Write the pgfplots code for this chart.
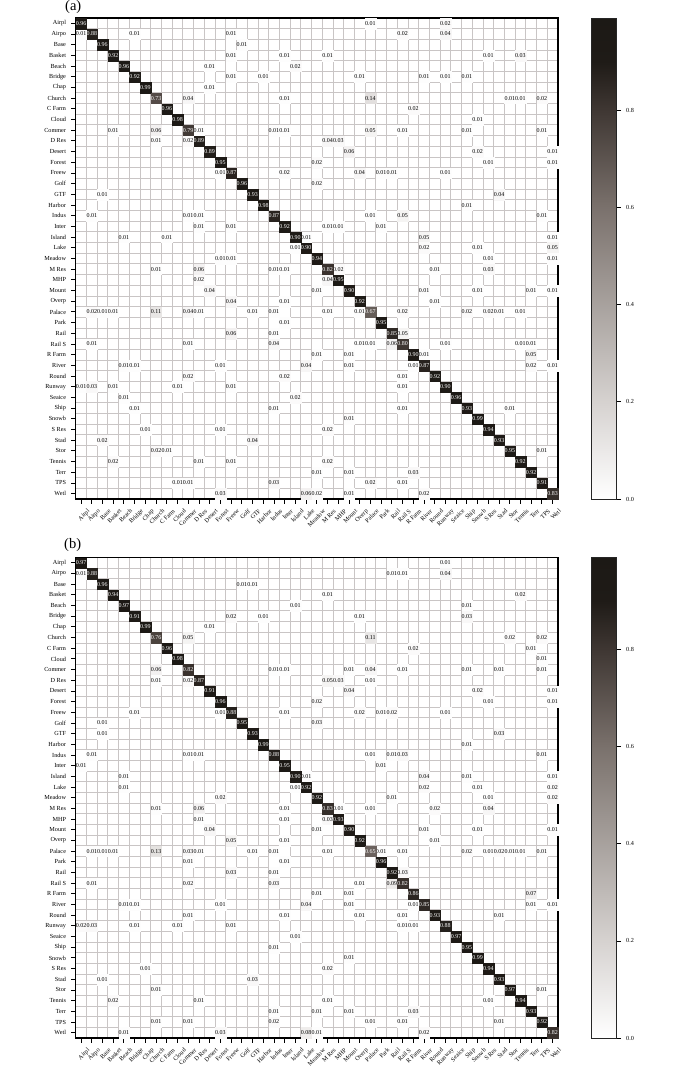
\documentclass[border=0pt]{standalone}
\usepackage{fontspec}
\setmainfont{Liberation Serif}
\usepackage{pgfplots}
\usepackage{pgfplotstable}
\pgfplotsset{compat=1.18}

% x y value, x = predicted column, y = row, both from 0
\pgfplotstableread{
x y v
27 0 0.01
34 0 0.02
0 1 0.01
5 1 0.01
14 1 0.01
30 1 0.02
34 1 0.04
15 2 0.01
14 3 0.01
19 3 0.01
23 3 0.01
38 3 0.01
41 3 0.03
12 4 0.01
20 4 0.02
14 5 0.01
17 5 0.01
26 5 0.01
32 5 0.01
34 5 0.01
36 5 0.01
12 6 0.01
10 7 0.04
19 7 0.01
27 7 0.14
40 7 0.01
41 7 0.01
43 7 0.02
31 8 0.02
37 9 0.01
3 10 0.01
7 10 0.06
11 10 0.01
18 10 0.01
19 10 0.01
27 10 0.05
30 10 0.01
36 10 0.01
43 10 0.01
7 11 0.01
10 11 0.02
23 11 0.04
24 11 0.03
25 12 0.06
37 12 0.02
44 12 0.01
22 13 0.02
38 13 0.01
44 13 0.01
13 14 0.01
19 14 0.02
26 14 0.04
28 14 0.01
29 14 0.01
34 14 0.01
22 15 0.02
2 16 0.01
39 16 0.04
36 17 0.01
1 18 0.01
10 18 0.01
11 18 0.01
27 18 0.01
30 18 0.05
43 18 0.01
11 19 0.01
14 19 0.01
23 19 0.01
24 19 0.01
28 19 0.01
4 20 0.01
8 20 0.01
21 20 0.01
32 20 0.05
44 20 0.01
20 21 0.01
32 21 0.02
37 21 0.01
44 21 0.05
13 22 0.01
14 22 0.01
38 22 0.01
44 22 0.01
7 23 0.01
11 23 0.06
18 23 0.01
19 23 0.01
24 23 0.02
33 23 0.01
38 23 0.03
11 24 0.02
23 24 0.04
12 25 0.04
22 25 0.01
32 25 0.01
37 25 0.01
42 25 0.01
44 25 0.01
14 26 0.04
19 26 0.01
33 26 0.01
1 27 0.02
2 27 0.01
3 27 0.01
7 27 0.11
10 27 0.04
11 27 0.01
16 27 0.01
18 27 0.01
23 27 0.01
26 27 0.01
30 27 0.02
36 27 0.02
38 27 0.02
39 27 0.01
41 27 0.01
19 28 0.01
14 29 0.06
18 29 0.01
30 29 0.05
1 30 0.01
10 30 0.01
18 30 0.04
26 30 0.01
27 30 0.01
29 30 0.06
34 30 0.01
41 30 0.01
42 30 0.01
22 31 0.01
25 31 0.01
32 31 0.01
42 31 0.05
4 32 0.01
5 32 0.01
13 32 0.01
21 32 0.04
25 32 0.01
31 32 0.01
42 32 0.02
44 32 0.01
10 33 0.02
19 33 0.02
30 33 0.01
0 34 0.01
1 34 0.03
3 34 0.01
9 34 0.01
14 34 0.01
30 34 0.01
4 35 0.01
20 35 0.02
5 36 0.01
18 36 0.01
30 36 0.01
40 36 0.01
25 37 0.01
6 38 0.01
13 38 0.01
23 38 0.02
2 39 0.02
16 39 0.04
7 40 0.02
8 40 0.01
43 40 0.01
3 41 0.02
11 41 0.01
14 41 0.01
23 41 0.02
22 42 0.01
25 42 0.01
31 42 0.03
9 43 0.01
10 43 0.01
18 43 0.03
27 43 0.02
30 43 0.01
13 44 0.03
21 44 0.06
22 44 0.02
25 44 0.01
32 44 0.02
}\offa

\pgfplotstableread{
x y v
0 0 0.96
1 1 0.88
2 2 0.96
3 3 0.92
4 4 0.96
5 5 0.92
6 6 0.99
7 7 0.73
8 8 0.96
9 9 0.98
10 10 0.79
11 11 0.89
12 12 0.89
13 13 0.95
14 14 0.87
15 15 0.96
16 16 0.93
17 17 0.98
18 18 0.87
19 19 0.92
20 20 0.90
21 21 0.90
22 22 0.94
23 23 0.82
24 24 0.95
25 25 0.90
26 26 0.92
27 27 0.67
28 28 0.95
29 29 0.85
30 30 0.80
31 31 0.90
32 32 0.87
33 33 0.92
34 34 0.90
35 35 0.96
36 36 0.93
37 37 0.99
38 38 0.94
39 39 0.93
40 40 0.95
41 41 0.92
42 42 0.92
43 43 0.91
44 44 0.83
}\diaga

\pgfplotstableread{
x y v
34 0 0.01
0 1 0.01
29 1 0.01
30 1 0.01
34 1 0.04
15 2 0.01
16 2 0.01
23 3 0.01
41 3 0.02
20 4 0.01
36 4 0.01
14 5 0.02
17 5 0.01
26 5 0.01
36 5 0.03
12 6 0.01
10 7 0.05
27 7 0.11
40 7 0.02
43 7 0.02
31 8 0.02
42 8 0.01
43 9 0.01
7 10 0.06
18 10 0.01
19 10 0.01
25 10 0.01
27 10 0.04
30 10 0.01
36 10 0.01
39 10 0.01
43 10 0.01
7 11 0.01
10 11 0.02
23 11 0.05
24 11 0.03
27 11 0.01
25 12 0.04
37 12 0.02
44 12 0.01
22 13 0.02
38 13 0.01
44 13 0.01
5 14 0.01
13 14 0.01
19 14 0.01
26 14 0.02
28 14 0.01
29 14 0.02
34 14 0.01
2 15 0.01
22 15 0.03
2 16 0.01
39 16 0.03
36 17 0.01
1 18 0.01
10 18 0.01
11 18 0.01
27 18 0.01
29 18 0.01
30 18 0.03
43 18 0.01
0 19 0.01
28 19 0.01
4 20 0.01
21 20 0.01
32 20 0.04
36 20 0.01
44 20 0.01
4 21 0.01
20 21 0.01
32 21 0.02
37 21 0.01
44 21 0.02
13 22 0.02
29 22 0.01
38 22 0.01
44 22 0.02
7 23 0.01
11 23 0.06
19 23 0.01
24 23 0.01
27 23 0.01
33 23 0.02
38 23 0.04
11 24 0.01
19 24 0.01
23 24 0.03
12 25 0.04
22 25 0.01
32 25 0.01
37 25 0.01
44 25 0.01
14 26 0.05
19 26 0.01
33 26 0.01
1 27 0.01
2 27 0.01
3 27 0.01
7 27 0.13
10 27 0.03
11 27 0.01
16 27 0.01
18 27 0.01
23 27 0.01
28 27 0.01
30 27 0.01
36 27 0.02
38 27 0.01
39 27 0.02
40 27 0.01
41 27 0.01
43 27 0.01
10 28 0.01
19 28 0.01
14 29 0.03
18 29 0.01
30 29 0.03
1 30 0.01
10 30 0.02
18 30 0.03
26 30 0.01
29 30 0.09
22 31 0.01
25 31 0.01
42 31 0.07
4 32 0.01
5 32 0.01
13 32 0.01
21 32 0.04
25 32 0.01
31 32 0.01
42 32 0.01
44 32 0.01
10 33 0.01
19 33 0.01
26 33 0.01
30 33 0.01
39 33 0.01
0 34 0.02
1 34 0.03
5 34 0.01
9 34 0.01
14 34 0.01
30 34 0.01
31 34 0.01
20 35 0.01
18 36 0.01
25 37 0.01
6 38 0.01
23 38 0.02
2 39 0.01
16 39 0.03
7 40 0.01
43 40 0.01
3 41 0.02
11 41 0.01
23 41 0.01
38 41 0.01
18 42 0.01
22 42 0.01
25 42 0.01
31 42 0.03
7 43 0.01
10 43 0.01
18 43 0.02
27 43 0.01
30 43 0.01
39 43 0.01
4 44 0.01
13 44 0.03
21 44 0.08
22 44 0.01
32 44 0.02
}\offb

\pgfplotstableread{
x y v
0 0 0.97
1 1 0.88
2 2 0.96
3 3 0.94
4 4 0.97
5 5 0.91
6 6 0.99
7 7 0.76
8 8 0.96
9 9 0.98
10 10 0.82
11 11 0.87
12 12 0.91
13 13 0.96
14 14 0.88
15 15 0.95
16 16 0.93
17 17 0.99
18 18 0.88
19 19 0.95
20 20 0.90
21 21 0.92
22 22 0.92
23 23 0.83
24 24 0.93
25 25 0.90
26 26 0.92
27 27 0.65
28 28 0.96
29 29 0.92
30 30 0.82
31 31 0.86
32 32 0.85
33 33 0.93
34 34 0.88
35 35 0.97
36 36 0.95
37 37 0.99
38 38 0.94
39 39 0.93
40 40 0.97
41 41 0.94
42 42 0.93
43 43 0.92
44 44 0.82
}\diagb

% colour bar strip, one edge at each stop of the map
\pgfplotstableread{
x y
0 0
1 0
0 0.2
1 0.2
0 0.4
1 0.4
0 0.6
1 0.6
0 0.8
1 0.8
0 0.9
1 0.9
0 0.99
1 0.99
}\barstrip

\definecolor{gridc}{HTML}{C9C5C5}

\pgfplotsset{
  warmgray/.style={
    colormap={warm}{
      color(0)=(white);
      rgb255(20)=(214,210,208);
      rgb255(40)=(168,162,158);
      rgb255(60)=(122,113,108);
      rgb255(80)=(63,55,51);
      rgb255(90)=(31,27,23);
      rgb255(99)=(28,25,21)},
    point meta min=0, point meta max=0.99,
  },
  frame/.style={
    scale only axis,
    width=482.3pt,
    anchor=south west,
    xmin=-0.5, xmax=44.5,
    ymin=-0.5, ymax=44.5,
    y dir=reverse,
    warmgray,
  },
  confmat/.style={
    frame,
    axis on top,
    xtick={0,...,44},
    ytick={0,...,44},
    xticklabels={Airpl,Airpo,Base,Basket,Beach,Bridge,Chap,Church,C Farm,Cloud,Commer,D Res,Desert,Forest,Freew,Golf,GTF,Harbor,Indus,Inter,Island,Lake,Meadow,M Res,MHP,Mount,Overp,Palace,Park,Rail,Rail S,R Farm,River,Round,Runway,Seaice,Ship,Snowb,S Res,Stad,Stor,Tennis,Terr,TPS,Wetl},
    yticklabels={Airpl,Airpo,Base,Basket,Beach,Bridge,Chap,Church,C Farm,Cloud,Commer,D Res,Desert,Forest,Freew,Golf,GTF,Harbor,Indus,Inter,Island,Lake,Meadow,M Res,MHP,Mount,Overp,Palace,Park,Rail,Rail S,R Farm,River,Round,Runway,Seaice,Ship,Snowb,S Res,Stad,Stor,Tennis,Terr,TPS,Wetl},
    minor xtick={-0.5,0.5,...,44.5},
    minor ytick={-0.5,0.5,...,44.5},
    xminorgrids=true, yminorgrids=true,
    minor grid style={gridc, line width=0.8pt},
    minor tick length=0pt,
    tick align=outside,
    major tick length=4.5pt,
    tick style={black, line width=0.9pt},
    xtick pos=lower, ytick pos=left,
    axis line style={black, line width=1.1pt},
    xticklabel style={rotate=45, anchor=north east, inner sep=0pt, xshift=0.5pt, yshift=-7.5pt, font=\fontsize{6.2}{6.2}\selectfont},
    yticklabel style={inner sep=0pt, xshift=-5pt, font=\fontsize{6.2}{6.2}\selectfont},
  },
  cellplot/.style 2 args={
    scatter, only marks, mark=square*, mark size=#2,
    scatter/use mapped color={draw=mapped color, fill=mapped color, line width=0.05pt},
    point meta=explicit,
    nodes near coords*={\pgfmathprintnumber[fixed, fixed zerofill, precision=2, assume math mode=true]{\pgfplotspointmeta}},
    nodes near coords style={anchor=center, inner sep=0pt, fill=none, draw=none, font=\fontsize{6}{6}\selectfont, text=#1},
  },
  barstyle/.style={
    scale only axis,
    axis on top,
    width=25pt,
    anchor=south west,
    xmin=0, xmax=1, ymin=0, ymax=0.99,
    xtick=\empty,
    ytick={0,0.2,0.4,0.6,0.8},
    ytick pos=right,
    yticklabel pos=right,
    tick align=outside,
    major tick length=5pt,
    tick style={black, line width=0.8pt},
    axis line style={black!85, line width=0.8pt},
    yticklabel style={anchor=west, inner sep=0pt, xshift=5pt, /pgf/number format/fixed, /pgf/number format/fixed zerofill, /pgf/number format/precision=1, /pgf/number format/assume math mode=true, font=\fontsize{6.2}{6.2}\selectfont},
    warmgray,
  },
}

\begin{document}
\begin{tikzpicture}
\path[use as bounding box] (0,0) rectangle (700pt,1076pt);

% off-diagonal cells lie under the grid, the diagonal in a bare axis over it
\begin{axis}[confmat, at={(75.7pt,577pt)}, height=481pt]
\addplot[cellplot={black}{5.3pt}] table[x=x, y=y, meta=v] {\offa};
\end{axis}
\begin{axis}[frame, hide axis, at={(75.7pt,577pt)}, height=481pt]
\addplot[cellplot={white}{5.2pt}] table[x=x, y=y, meta=v] {\diaga};
\end{axis}
\begin{axis}[barstyle, at={(591pt,577pt)}, height=481pt]
\addplot[surf, shader=interp, mesh/rows=7, point meta=y] table {\barstrip};
\end{axis}

\begin{axis}[confmat, at={(75.7pt,38pt)}, height=480.5pt]
\addplot[cellplot={black}{5.3pt}] table[x=x, y=y, meta=v] {\offb};
\end{axis}
\begin{axis}[frame, hide axis, at={(75.7pt,38pt)}, height=480.5pt]
\addplot[cellplot={white}{5.2pt}] table[x=x, y=y, meta=v] {\diagb};
\end{axis}
\begin{axis}[barstyle, at={(591pt,38pt)}, height=480.5pt]
\addplot[surf, shader=interp, mesh/rows=7, point meta=y] table {\barstrip};
\end{axis}

\node[anchor=base west, inner sep=0pt, font=\fontsize{14.5}{14.5}\selectfont] at (65pt,1065.5pt) {(a)};
\node[anchor=base west, inner sep=0pt, font=\fontsize{14.5}{14.5}\selectfont] at (64pt,527pt) {(b)};
\end{tikzpicture}
\end{document}
